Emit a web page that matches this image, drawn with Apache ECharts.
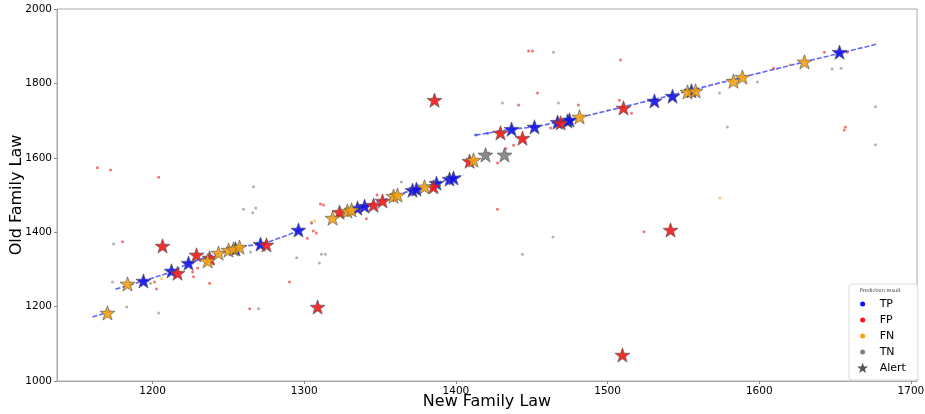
<!DOCTYPE html>
<html>
<head>
<meta charset="utf-8">
<script src="https://cdn.jsdelivr.net/npm/echarts@6/dist/echarts.min.js"></script>
<style>
  html, body { margin: 0; padding: 0; background: #fff; }
  #chart { width: 925px; height: 414px; }
</style>
</head>
<body>
<div id="chart"></div>
<script>
// tick labels
const xTicks = [1200, 1300, 1400, 1500, 1600, 1700];
const yTicks = [1000, 1200, 1400, 1600, 1800, 2000];

// alert stars, by prediction result  [new law, old law]
const tpStars = [[1194,1269],[1212.5,1296],[1223.7,1317],[1254.7,1355],[1271.2,1368],[1296.2,1406],
  [1335.1,1465],[1339.8,1470],[1371.4,1513],[1374,1516],[1387.2,1532],[1395.8,1543],[1398.4,1546],
  [1436.7,1677],[1451.8,1683],[1467,1696],[1473.6,1699],[1474.9,1702],[1530.9,1753],[1542.8,1766],
  [1555.3,1780],[1652.9,1884]];
const fpStars = [[1206.6,1363],[1229,1339],[1216.5,1290],[1237.6,1331],[1275.1,1366],[1323.3,1454],
  [1345.7,1473],[1351.6,1484],[1385.2,1522],[1409,1591],[1429.4,1667],[1443.9,1653],[1469,1694],
  [1510.5,1734],[1385.9,1755],[1308.8,1199],[1541.5,1406],[1509.8,1070]];
const fnStars = [[1170.3,1183],[1183.5,1261],[1236.3,1323],[1243.5,1344],[1250.1,1352],[1253.4,1355],
  [1257.3,1360],[1318.7,1438],[1328.5,1457],[1331.2,1460],[1358.9,1497],[1361.5,1500],[1379.3,1522],
  [1411.6,1594],[1481.5,1710],[1552.7,1777],[1558,1780],[1583,1806],[1588.9,1817],[1629.8,1858]];
const tnStars = [[1419.5,1608],[1432,1608]];

// small points
const tpDots = [[1413,1661],[1421,1666],[1304.8,1425],[1185,1262],[1560,1782]];
const fpDots = [[1163.7,1573],[1172.3,1567],[1180.2,1374],[1204,1548],[1202.6,1247],[1201.3,1266],
  [1226.4,1293],[1227,1280],[1229.7,1304],[1240.2,1315],[1237.6,1263],[1264,1194],[1290.3,1266],
  [1306,1403],[1308,1398],[1310.7,1476],[1312.7,1473],[1302,1384],[1341,1436],[1348,1500],
  [1453.8,1774],[1441.3,1742],[1480.8,1742],[1427.4,1586],[1421.5,1613],[1438,1634],[1433,1625],
  [1462.4,1680],[1447.9,1887],[1450.5,1887],[1508.5,1863],[1507.8,1755],[1515.8,1720],[1643,1884],
  [1658,1884],[1656.8,1683],[1656,1675],[1609.4,1841],[1524,1401],[1427.4,1462]];
const fnDots = [[1304.8,1427],[1306.8,1430],[1206,1275],[1574,1492],[1580,1810],[1620,1850],[1500,1728]];
const tnDots = [[1174.3,1368],[1173.6,1266],[1182.9,1199],[1204,1183],[1198.7,1263],[1264.6,1347],
  [1269.9,1194],[1295,1331],[1310,1317],[1311.4,1341],[1314,1341],[1266.6,1522],[1260,1462],
  [1266,1452],[1268,1465],[1364,1535],[1430.7,1747],[1467.6,1747],[1464.3,1884],[1598.8,1804],
  [1573.8,1774],[1579,1683],[1648,1839],[1654,1841],[1676.6,1737],[1676.6,1635],[1464,1387],[1443.9,1341]];

// fitted trend (null = break)
const trendLine = [[1160.4,1172],[1173,1188],null,[1175.6,1247],[1194,1269],[1212.5,1293],[1223.7,1317],
  [1250,1352],[1261,1363],[1272.5,1368],[1289,1392],[1299.5,1411],null,[1317,1438],[1371,1513],
  [1387,1532],[1405,1554],null,[1413,1661],[1436.6,1677],[1452,1683],[1475,1702],[1510.5,1737],
  [1543,1769],[1589,1817],[1630,1858],[1678,1906]];

const starPath = 'path://M0,-10L2.35,-3.24L9.51,-3.09L3.8,1.24L5.88,8.09L0,4L-5.88,8.09L-3.8,1.24L-9.51,-3.09L-2.35,-3.24Z';
const colors = { TP: '#1010f0', FP: '#f01818', FN: '#f5a30f', TN: '#808080' };

const starData = [];
[['TP', tpStars], ['FP', fpStars], ['FN', fnStars], ['TN', tnStars]].forEach(([k, arr]) => {
  arr.forEach(p => starData.push({ value: p, itemStyle: { color: colors[k] } }));
});

const dotSeries = (name, data) => ({
  name: name,
  type: 'scatter',
  data: data,
  symbol: 'circle',
  symbolSize: 3,
  itemStyle: { color: colors[name], opacity: 0.6 },
  z: 2
});

const legendItem = name => ({ name: name, itemStyle: { color: colors[name], opacity: 1 } });

const chart = echarts.init(document.getElementById('chart'));
const font = 'DejaVu Sans';
const option = {
  animation: false,
  textStyle: { fontFamily: font },
  grid: { left: 57, right: 8, top: 9, bottom: 33, containLabel: false, outerBoundsMode: 'none',
    show: true, borderColor: '#aaa', borderWidth: 1 },
  xAxis: {
    type: 'value', min: 1137, max: 1704,
    name: 'New Family Law', nameLocation: 'middle', nameGap: 13, nameMoveOverlap: false,
    nameTextStyle: { fontSize: 16, color: '#000', fontFamily: font, verticalAlign: 'top' },
    axisLine: { show: true, lineStyle: { color: '#aaa' } },
    axisTick: { show: true, length: 3, lineStyle: { color: '#888' }, customValues: xTicks },
    axisLabel: { fontSize: 10.5, color: '#000', margin: 5, customValues: xTicks,
      formatter: v => String(v) },
    splitLine: { show: false }
  },
  yAxis: {
    type: 'value', min: 1000, max: 2000, interval: 200,
    name: 'Old Family Law', nameLocation: 'middle', nameGap: 32, nameRotate: 90, nameMoveOverlap: false,
    nameTextStyle: { fontSize: 16, color: '#000', fontFamily: font },
    axisLine: { show: true, lineStyle: { color: '#aaa' } },
    axisTick: { show: true, length: 3, lineStyle: { color: '#888' }, customValues: yTicks },
    axisLabel: { fontSize: 10.5, color: '#000', margin: 5, customValues: yTicks,
      formatter: v => String(v) },
    splitLine: { show: false }
  },
  legend: {
    orient: 'vertical', left: 849, top: 284, width: 54,
    padding: [14, 12, 6, 10],
    backgroundColor: '#fff', borderColor: '#ddd', borderWidth: 1, borderRadius: 3,
    itemWidth: 12, itemHeight: 5, itemGap: 4,
    textStyle: { fontSize: 11, color: '#000', lineHeight: 12, padding: [0, 0, 0, 6] },
    data: [legendItem('TP'), legendItem('FP'), legendItem('FN'), legendItem('TN'),
      { name: 'Alert', icon: starPath, itemStyle: { color: '#555', opacity: 1 } }]
  },
  graphic: [{
    type: 'text', left: 860, top: 288, z: 100,
    style: { text: 'Prediction result', fontSize: 5, fill: '#333', fontFamily: font }
  }],
  series: [
    dotSeries('TP', tpDots),
    dotSeries('FP', fpDots),
    dotSeries('FN', fnDots),
    dotSeries('TN', tnDots),
    {
      type: 'line', data: trendLine, showSymbol: false, connectNulls: false,
      lineStyle: { color: '#3333ff', width: 1.6, type: [5, 2], opacity: 0.75 },
      z: 3, silent: true
    },
    {
      name: 'Alert', type: 'scatter', data: starData,
      symbol: starPath, symbolSize: 15, symbolKeepAspect: true,
      itemStyle: { borderColor: '#555', borderWidth: 0.7, opacity: 0.9 },
      z: 5
    }
  ]
};
chart.setOption(option);
</script>
</body>
</html>
